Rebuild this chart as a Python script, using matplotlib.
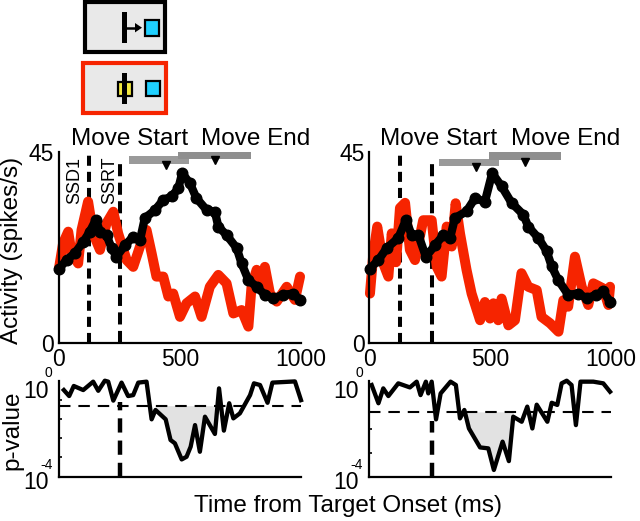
import numpy as np
import matplotlib
matplotlib.use("Agg")
import matplotlib.pyplot as plt
from matplotlib.patches import Rectangle, Polygon

plt.rcParams['font.family'] = ['Liberation Sans', 'DejaVu Sans']

W, H = 640, 521

# ---------- data ----------
left_black_t = [3,33,67,102,129,154,171,198,219,239,274,308,336,356,398,432,466,494,510,542,569,611,645,659,693,735,755,783,817,851,886,927,968,996]
left_black_y = [17.5,19.5,21.1,23.8,26.2,29,26.2,25.4,22.3,20.3,23,25,24.2,29.4,31.3,33.7,34.5,36.4,40,37.6,34.1,31.3,30.9,27.4,25.4,22.3,18.7,14.8,13.2,11.3,10.5,11.3,11.6,10.1]
left_red_t = [3,19,40,54,81,95,122,143,171,198,226,246,281,308,336,363,384,404,432,453,473,501,528,563,590,624,659,693,721,755,783,796,817,838,851,872,900,941,975,996]
left_red_y = [17.9,23.5,26.2,21.1,18.7,26.6,33.3,25.8,21.9,28.2,30.9,25.8,19.5,17.9,22.7,26.6,21.1,15.6,15.6,10.9,11.6,6.1,9.3,10.9,6.1,13.2,16,14,6.9,7.7,3.8,13.2,17.2,12.4,17.9,11.6,9.7,13.2,10.1,15.6]
right_black_t = [4,39,73,121,153,176,204,235,273,307,335,355,403,438,479,509,548,589,638,658,700,734,755,782,823,865,899,940,968,995]
right_black_y = [17.5,19.5,22.3,24.7,29,25.4,25.4,20.3,23,25.4,24.7,29.4,31,34.1,33.3,40,36.9,33,30.2,27.4,24.7,21.6,18,14.8,11.3,11.6,10.5,11.3,12.1,9.7]
right_red_t = [4,18,34,59,80,94,112,128,149,169,190,224,259,280,300,321,342,358,376,403,424,459,479,500,514,534,548,576,603,630,658,693,713,748,783,803,823,851,879,906,927,968,989,996]
right_red_y = [11.6,21.1,27.4,18.7,15.6,25.8,19,31.8,33,21.9,19.5,28.9,28.9,17.9,15.6,27.4,22.7,32.9,25.8,17.2,11.6,5.3,9.6,5.7,9.3,5.3,10.4,4.1,5.3,16.4,13.2,12.4,6.1,4.6,2.6,10,8.5,20.3,13.2,8.9,14,12.8,8.9,13.2]

left_p_t = [22,44,63,102,143,164,191,205,226,260,287,308,329,363,384,400,442,462,480,508,528,545,563,583,604,645,662,682,704,721,748,790,806,831,862,882,975,1000]
left_p_log = [-0.39,-0.64,-0.22,-0.39,-0.04,-0.42,0,-0.04,-0.83,-0.08,-0.64,-0.6,-0.08,-0.04,-1.61,-1.22,-1.61,-2.47,-2.61,-3.28,-3.17,-2.75,-1.85,-2.96,-1.5,-2.22,-0.32,-2.08,-0.94,-1.57,-1.36,-0.6,-0.11,-0.18,-0.92,-0.08,-0.03,-0.81]
right_p_t = [11,39,59,80,121,169,197,213,235,245,259,277,296,337,359,376,394,413,459,493,516,552,578,596,631,654,675,693,737,755,778,796,817,837,855,874,927,968,996]
right_p_log = [-0.18,-0.94,-0.32,-0.64,-0.11,-0.28,-0.04,-0.6,-0.04,-0.53,-0.04,-1.61,-0.53,-0.04,-0.18,-1.57,-1.22,-1.99,-2.78,-2.82,-3.72,-2.54,-3.35,-1.5,-1.71,-1.08,-1.99,-1.0,-1.71,-0.92,-1.01,-0.11,0,-0.18,-1.85,-0.04,-0.04,-0.11,-0.46]

left_threshold_log = -1.04
right_threshold_log = -1.3
left_shade = (400, 645)
right_shade = (394, 596)

ssd1 = [127, 127]
ssrt = [254, 262]
move_start_bar = (290, 538)
move_end_bar = (494, 792)
move_start_mark = 443
move_end_mark = 645

x_ticks = [0, 500, 1000]

RED = '#f62400'
GRAY = '#8f8f8f'


def axes_px(x0, x1, ytop, ybot):
    return fig.add_axes([x0 / W, 1 - ybot / H, (x1 - x0) / W, (ybot - ytop) / H])


def style(ax):
    for s in ('top', 'right'):
        ax.spines[s].set_visible(False)
    for s in ('left', 'bottom'):
        ax.spines[s].set_linewidth(1.6)
    ax.patch.set_alpha(0)


fig = plt.figure(figsize=(W / 100, H / 100), dpi=100)

panels = [
    dict(x0=58.5, x1=301, rt=left_red_t, ry=left_red_y, bt=left_black_t, by=left_black_y,
         pt=left_p_t, pl=left_p_log, thr=left_threshold_log, shade=left_shade, ssrt=ssrt[0],
         ssd=ssd1[0], dash_top=-0.87, bar_y=(42.2, 44.0, 43.4, 45.2), ticks=[-0.8, -1.6, -2.4, -3.2]),
    dict(x0=369, x1=611, rt=right_red_t, ry=right_red_y, bt=right_black_t, by=right_black_y,
         pt=right_p_t, pl=right_p_log, thr=right_threshold_log, shade=right_shade, ssrt=ssrt[1],
         ssd=ssd1[1], dash_top=-1.7, bar_y=(41.6, 43.3, 43.1, 44.9), ticks=[-2, -3]),
]

for i, p in enumerate(panels):
    ax = axes_px(p['x0'], p['x1'], 152, 342.7)
    style(ax)
    ax.set_xlim(0, 1000)
    ax.set_ylim(0, 45)
    ax.plot([p['ssd']] * 2, [0, 45], color='k', lw=2.9, ls=(0, (2.5, 1.5)), zorder=1)
    ax.plot([p['ssrt']] * 2, [0, 43], color='k', lw=2.9, ls=(0, (3.0, 1.6)), zorder=1)
    ax.plot(p['rt'], p['ry'], color=RED, lw=7.2, solid_joinstyle='round', solid_capstyle='round',
            clip_on=False, zorder=2)
    ax.plot(p['bt'], p['by'], color='k', lw=6, marker='o', ms=7.6, solid_joinstyle='round',
            solid_capstyle='round', clip_on=False, zorder=3)
    ylo, yhi, ylo2, yhi2 = p['bar_y']
    ax.fill_between(move_start_bar, ylo, yhi, color='#9a9a9a', lw=0, zorder=1.2)
    ax.fill_between(move_end_bar, ylo2, yhi2, color=GRAY, lw=0, zorder=1.3)
    ax.plot([move_start_mark], [ylo - 0.2], marker='v', color='k', ms=5.2, clip_on=False, zorder=4)
    ax.plot([move_end_mark], [ylo2 - 0.4], marker='v', color='k', ms=5.2, clip_on=False, zorder=4)
    ax.set_xticks(x_ticks)
    ax.set_xticklabels([str(t) for t in x_ticks])
    ax.set_yticks([0, 45])
    ax.set_yticklabels(['0', '45'])
    ax.tick_params(length=0, labelsize=16.5, pad=4)
    ax.tick_params(axis='y', pad=3)
    if i == 0:
        ax.text(p['ssd'] - 59, 32.8, 'SSD1', rotation=90, fontsize=13, ha='center', va='bottom')
        ax.text(p['ssrt'] - 42, 32.8, 'SSRT', rotation=90, fontsize=13, ha='center', va='bottom')

    bx = axes_px(p['x0'], p['x1'], 380.7, 476.7)
    style(bx)
    bx.set_xlim(0, 1000)
    bx.set_yscale('log')
    bx.set_ylim(1e-4, 1)
    t = np.array(p['pt'], float)
    v = 10.0 ** np.array(p['pl'], float)
    thr = 10.0 ** p['thr']
    bx.plot(t, v, color='k', lw=3.1, solid_joinstyle='round', clip_on=False, zorder=3)
    bx.axhline(thr, color='k', lw=1.5, ls=(0, (5.5, 3.8)), zorder=2)
    bx.plot([p['ssrt']] * 2, [1e-4, 10.0 ** p['dash_top']], color='k', lw=3.2,
            ls=(0, (3.2, 1.8)), zorder=2)
    fine_t = np.linspace(p['shade'][0], p['shade'][1], 600)
    fine_v = np.minimum(10.0 ** np.interp(fine_t, t, p['pl']), thr)
    bx.fill_between(fine_t, fine_v, thr, color='#e2e2e2', lw=0, zorder=1)
    bx.set_xticks([])
    bx.minorticks_off()
    bx.set_yticks([10.0 ** k for k in p['ticks']])
    bx.set_yticklabels([])
    bx.tick_params(axis='y', which='both', length=2, width=1.2, direction='in')
    tr = bx.get_yaxis_transform()
    for val, base_dy, exp_txt, exp_dy in [(1, -11, '0', 8), (1e-4, -6, '-4', 12)]:
        bx.annotate('10', xy=(0, val), xycoords=tr, xytext=(-10, base_dy), textcoords='offset pixels',
                    fontsize=16.5, ha='right', va='center', annotation_clip=False)
        bx.annotate(exp_txt, xy=(0, val), xycoords=tr, xytext=(-6, exp_dy), textcoords='offset pixels',
                    fontsize=10, ha='right', va='center', annotation_clip=False)

# ---------- page-level decoration and labels ----------
page = fig.add_axes([0, 0, 1, 1], zorder=-1)
page.set_xlim(0, W)
page.set_ylim(H, 0)
page.axis('off')

page.add_patch(Rectangle((84.5, 1.5), 80, 50, fc='#e9e9e9', ec='k', lw=3))
page.add_patch(Rectangle((82.5, 63), 83, 49.5, fc='#e9e9e9', ec=RED, lw=3))
page.add_patch(Rectangle((121.7, 11.7), 5.6, 31, fc='k', ec='none'))
page.plot([127, 137], [27.7, 27.7], color='k', lw=1.8)
page.add_patch(Polygon([[135, 23], [142, 27.7], [135, 32.4]], fc='k', ec='none'))
page.add_patch(Rectangle((145, 20), 13.5, 15.5, fc='#1fd0ff', ec='k', lw=1.6))
page.add_patch(Rectangle((118, 82), 14, 14, fc='#f3e93f', ec='k', lw=1.6))
page.add_patch(Rectangle((121.7, 72.7), 5.6, 31.3, fc='k', ec='none', zorder=3))
page.add_patch(Rectangle((146, 81), 13.5, 15, fc='#1fd0ff', ec='k', lw=1.6))

for cx, txt in [(129.5, 'Move Start'), (255.5, 'Move End'), (439, 'Move Start'), (566, 'Move End')]:
    fig.text(cx / W, 1 - 139 / H, txt, fontsize=17.5, ha='center', va='center')

fig.text(12 / W, 1 - 250 / H, 'Activity (spikes/s)', rotation=90, fontsize=17.5, ha='center', va='center')
fig.text(12 / W, 1 - 430 / H, 'p-value', rotation=90, fontsize=17.5, ha='center', va='center')
fig.text(347.5 / W, 1 - 506 / H, 'Time from Target Onset (ms)', fontsize=17.5, ha='center', va='center')

fig.savefig('out.png', dpi=100)
